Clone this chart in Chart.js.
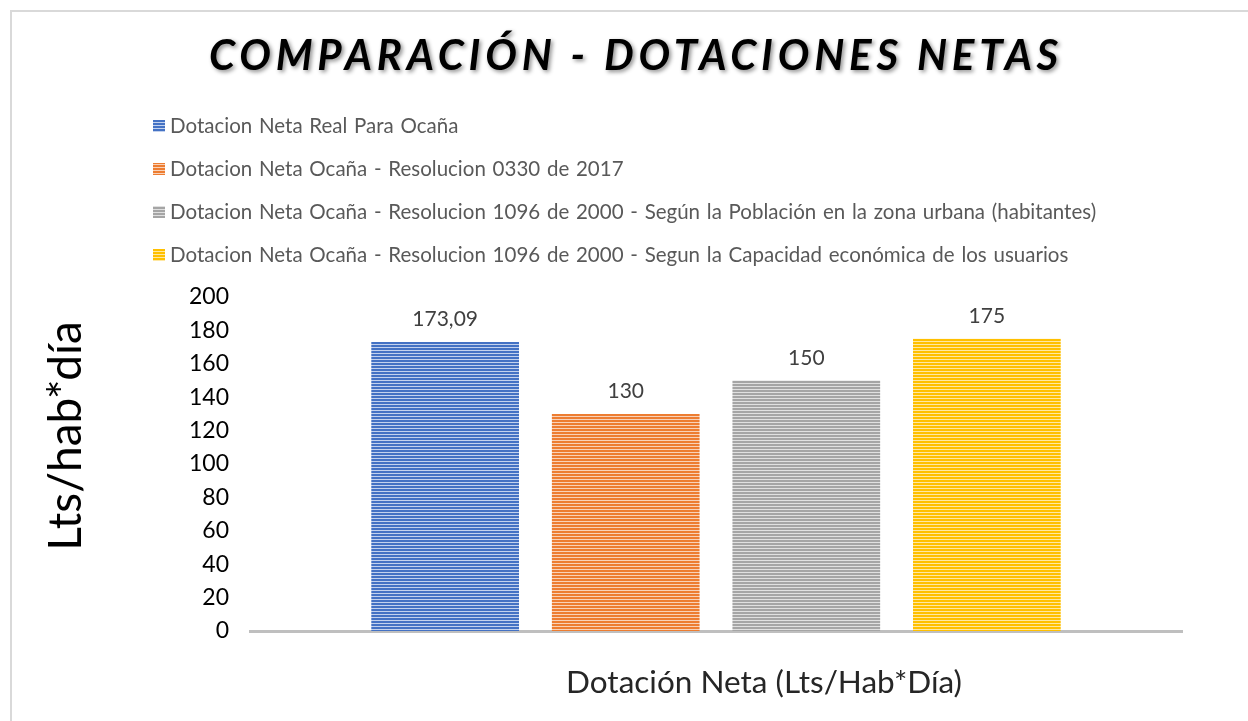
<!DOCTYPE html>
<html>
<head>
<meta charset="utf-8">
<script src="https://cdn.jsdelivr.net/npm/chart.js@4.4.0/dist/chart.umd.min.js"></script>
<style>
    body { margin: 0; background: #fff; overflow: hidden; }
    #frame { position: absolute; left: 10px; top: 10px; width: 1300px; height: 800px; border: 2px solid #d9d9d9; }
    #wrap { position: absolute; left: 0; top: 0; width: 1248px; height: 721px; }
</style>
</head>
<body>
<div id="frame"></div>
<div id="wrap"><canvas id="myChart" width="1248" height="721"></canvas></div>
<script>
// data
const chartTitle = 'COMPARACIÓN - DOTACIONES NETAS';
const categories = [''];
const seriesNames = [
    'Dotacion Neta Real Para Ocaña',
    'Dotacion Neta Ocaña - Resolucion 0330 de 2017',
    'Dotacion Neta Ocaña - Resolucion 1096 de 2000 - Según la Población en la zona urbana (habitantes)',
    'Dotacion Neta Ocaña - Resolucion 1096 de 2000 - Segun la Capacidad económica de los usuarios'
];
const seriesValues = [173.09, 130, 150, 175];
const seriesColors = ['#4472C4', '#ED7D31', '#A5A5A5', '#FFC000'];
const seriesLight = ['#c3d2ee', '#f9d2b8', '#e0e0e0', '#ffe8a3'];
const yTitle = 'Lts/hab*día';
const xTitle = 'Dotación Neta (Lts/Hab*Día)';
const yMin = 0, yMax = 200, yStep = 20;

const FONT = 'Lato';

function stripes(color, light) {
    var c = document.createElement('canvas');
    c.width = 4; c.height = 3;
    var g = c.getContext('2d');
    g.fillStyle = light;
    g.fillRect(0, 0, 4, 3);
    g.fillStyle = color;
    g.fillRect(0, 0, 4, 2);
    return g.createPattern(c, 'repeat');
}

function fmt(v) {
    return String(v).replace('.', ',');
}

// big italic title with shadow
const titlePlugin = {
    id: 'bigTitle',
    afterDraw(chart) {
        const ctx = chart.ctx;
        ctx.save();
        ctx.font = 'italic bold 42px ' + FONT;
        ctx.letterSpacing = '4.8px';
        ctx.fillStyle = '#000';
        ctx.textAlign = 'center';
        ctx.textBaseline = 'alphabetic';
        ctx.shadowColor = 'rgba(0,0,0,0.45)';
        ctx.shadowBlur = 4;
        ctx.shadowOffsetX = 2;
        ctx.shadowOffsetY = 2;
        ctx.fillText(chartTitle, chart.width / 2 + 12, 70);
        ctx.restore();
    }
};

// one legend item per row
const rowLegend = {
    id: 'rowLegend',
    afterDraw(chart) {
        const ctx = chart.ctx;
        ctx.save();
        ctx.font = '20.5px ' + FONT;
        ctx.wordSpacing = '1.5px';
        ctx.textBaseline = 'middle';
        chart.data.datasets.forEach(function (ds, i) {
            const y = 126 + i * 43;
            ctx.fillStyle = ds.backgroundColor;
            ctx.fillRect(153, y - 6, 12, 12);
            ctx.fillStyle = '#595959';
            ctx.fillText(ds.label, 170, y);
        });
        ctx.restore();
    }
};

// axis titles, placed like the original
const axisTitles = {
    id: 'axisTitles',
    afterDraw(chart) {
        const ctx = chart.ctx;
        const a = chart.chartArea;
        ctx.save();
        ctx.textAlign = 'center';
        ctx.textBaseline = 'middle';
        ctx.fillStyle = '#262626';
        ctx.font = '31.5px ' + FONT;
        ctx.fillText(xTitle, (a.left + a.right) / 2 + 48, 683);
        ctx.fillStyle = '#000';
        ctx.font = '46px ' + FONT;
        ctx.translate(66, (a.top + a.bottom) / 2 - 28);
        ctx.rotate(-Math.PI / 2);
        ctx.fillText(yTitle, 0, 0);
        ctx.restore();
    }
};

// value labels above the bars
const valueLabels = {
    id: 'valueLabels',
    afterDatasetsDraw(chart) {
        const ctx = chart.ctx;
        ctx.save();
        ctx.font = '21px ' + FONT;
        ctx.fillStyle = '#404040';
        ctx.textAlign = 'center';
        ctx.textBaseline = 'bottom';
        chart.data.datasets.forEach(function (ds, i) {
            chart.getDatasetMeta(i).data.forEach(function (bar, j) {
                ctx.fillText(fmt(ds.data[j]), bar.x, bar.y - 12);
            });
        });
        ctx.restore();
    }
};

const ctx = document.getElementById('myChart').getContext('2d');

const myChart = new Chart(ctx, {
    type: 'bar',
    data: {
        labels: categories,
        datasets: seriesNames.map(function (name, i) {
            return {
                label: name,
                data: [seriesValues[i]],
                backgroundColor: stripes(seriesColors[i], seriesLight[i]),
                borderWidth: 0,
                categoryPercentage: 0.775,
                barPercentage: 0.818
            };
        })
    },
    options: {
        responsive: false,
        animation: false,
        layout: {
            padding: { top: 297, right: 66, bottom: 90, left: 168 }
        },
        plugins: {
            legend: { display: false },
            title: { display: false },
            tooltip: { enabled: false }
        },
        scales: {
            x: {
                grid: { display: false, drawTicks: false },
                border: { display: true, color: '#bfbfbf', width: 3 },
                ticks: { display: false }
            },
            y: {
                min: yMin,
                max: yMax,
                grid: { display: false, drawTicks: false },
                border: { display: false },
                ticks: {
                    stepSize: yStep,
                    color: '#000',
                    padding: 21,
                    font: { family: FONT, size: 23 }
                }
            }
        }
    },
    plugins: [titlePlugin, rowLegend, axisTitles, valueLabels]
});
</script>
</body>
</html>
